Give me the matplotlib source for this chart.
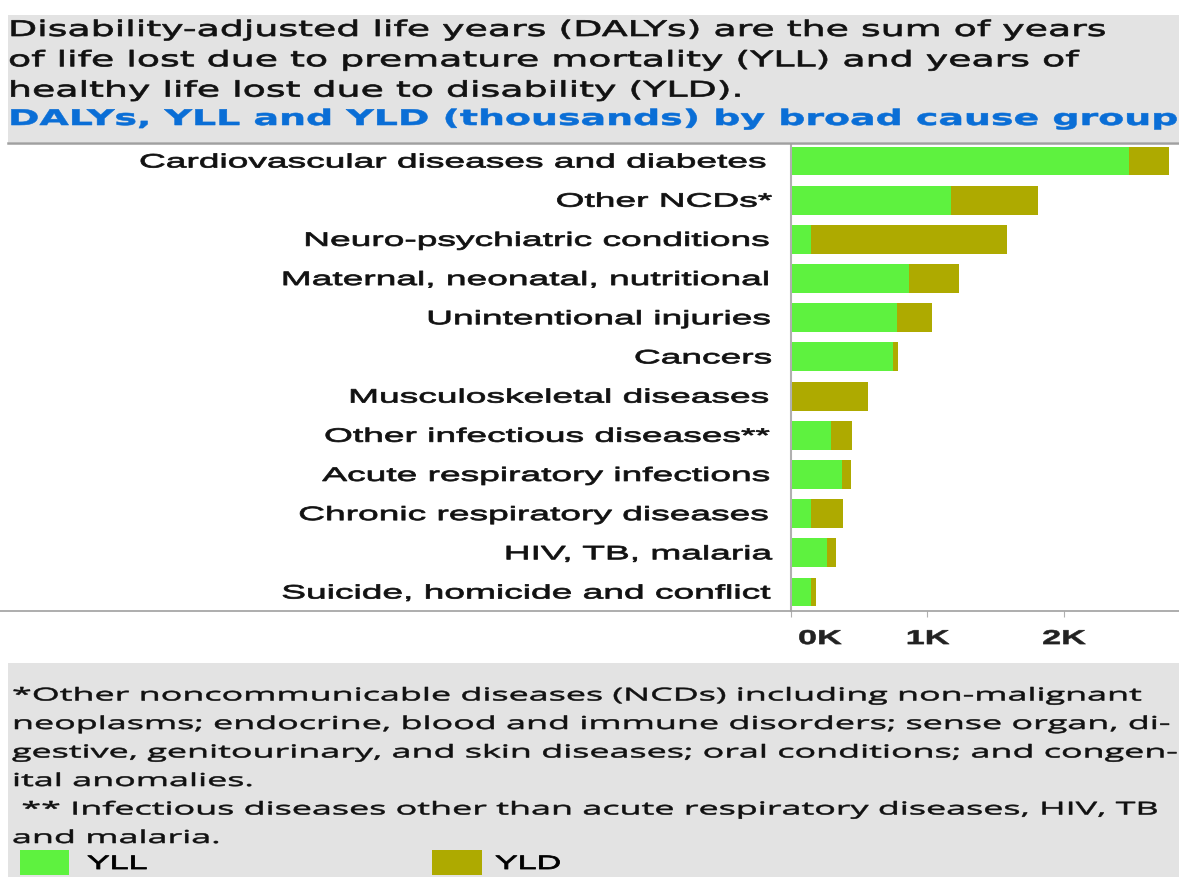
import matplotlib.pyplot as plt
import numpy as np
from matplotlib.patches import Rectangle
from matplotlib.lines import Line2D
from matplotlib.patheffects import AbstractPathEffect
from matplotlib.transforms import Affine2D

# Data (thousands)
causes = ["Cardiovascular diseases and diabetes", "Other NCDs*",
          "Neuro-psychiatric conditions", "Maternal, neonatal, nutritional",
          "Unintentional injuries", "Cancers", "Musculoskeletal diseases",
          "Other infectious diseases**", "Acute respiratory infections",
          "Chronic respiratory diseases", "HIV, TB, malaria",
          "Suicide, homicide and conflict"]
yll = [2.476, 1.171, 0.144, 0.867, 0.774, 0.750, 0.005, 0.290, 0.371, 0.144, 0.261, 0.144]
yld = [0.293, 0.638, 1.436, 0.364, 0.257, 0.037, 0.557, 0.159, 0.066, 0.239, 0.069, 0.039]
xticks = [0, 1, 2]
xtick_labels = ["0K", "1K", "2K"]

header_lines = ["Disability-adjusted life years (DALYs) are the sum of years",
                "of life lost due to premature mortality (YLL) and years of",
                "healthy life lost due to disability (YLD)."]
subtitle = "DALYs, YLL and YLD (thousands) by broad cause group"
footer_lines = ["*Other noncommunicable diseases (NCDs) including non-malignant",
                "neoplasms; endocrine, blood and immune disorders; sense organ, di-",
                "gestive, genitourinary, and skin diseases; oral conditions; and congen-",
                "ital anomalies.",
                " ** Infectious diseases other than acute respiratory diseases, HIV, TB",
                "and malaria."]

green = "#5ef23f"
olive = "#aeaa00"
grey_bg = "#e3e3e3"


class Stretch(AbstractPathEffect):
    """Draw text glyphs stretched horizontally about pixel column x0,
    with an optional thin outline to thicken the strokes."""
    def __init__(self, sx, x0, dx=0, lw=0.0):
        super().__init__()
        self.sx, self.x0, self.dx, self.lw = sx, x0, dx, lw

    def draw_path(self, renderer, gc, tpath, affine, rgbFace=None):
        st = Affine2D().translate(-self.x0, 0).scale(self.sx, 1).translate(self.x0 + self.dx, 0)
        gc0 = renderer.new_gc()
        gc0.copy_properties(gc)
        if self.lw and rgbFace is not None:
            gc0.set_linewidth(self.lw)
            gc0.set_foreground(rgbFace)
        renderer.draw_path(gc0, tpath, affine + st, rgbFace)
        gc0.restore()


W, H = 1179, 877
fig = plt.figure(figsize=(W / 100, H / 100), dpi=100)


def px(x, y):
    # pixel position measured from top-left -> figure fraction
    return x / W, 1 - y / H


# grey header and footer panels
fig.patches.append(Rectangle(px(8, 142), 1, 127 / H, transform=fig.transFigure,
                             facecolor=grey_bg, edgecolor="none", zorder=0))
fig.patches.append(Rectangle(px(8, H), 1, (H - 663) / H, transform=fig.transFigure,
                             facecolor=grey_bg, edgecolor="none", zorder=0))
fig.lines.append(Line2D([8 / W, 1], [1 - 143 / H] * 2, transform=fig.transFigure,
                        color="#a0a0a0", lw=1.8))
fig.lines.append(Line2D([0, 1], [1 - 611 / H] * 2, transform=fig.transFigure,
                        color="#a0a0a0", lw=1.2))

# header
for i, line in enumerate(header_lines):
    fig.text(*px(8, 36 + 30.3 * i), line, fontsize=15.5, family="DejaVu Sans",
             va="baseline", ha="left", color="#111111",
             path_effects=[Stretch(1.76, 8, lw=0.5)])
fig.text(*px(8, 125), subtitle, fontsize=15.5, fontweight="bold", color="#0a6ed6",
         va="baseline", ha="left", path_effects=[Stretch(1.76, 8, lw=0.4)])

# chart
ax = fig.add_axes([791 / W, 1 - 611 / H, (W - 791) / W, (611 - 145) / H])
y = np.arange(len(causes))
ax.barh(y, yll, height=0.74, color=green, label="YLL")
ax.barh(y, yld, left=yll, height=0.74, color=olive, label="YLD")
ax.set_xlim(0, (W - 791) / 136.5)
ax.set_ylim(11 + 19 / 39.18, -16 / 39.18)
ax.set_yticks(y)
ax.set_yticklabels(causes, fontsize=14, family="Liberation Sans", color="#111111")
ax.tick_params(axis="y", length=0, pad=12.5)
for lab in ax.get_yticklabels():
    lab.set_path_effects([Stretch(1.91, 774, lw=0.55)])
ax.set_xticks(xticks)
ax.set_xticklabels(xtick_labels, fontsize=14.5, fontweight="bold",
                   family="Liberation Sans", color="#222222")
ax.tick_params(axis="x", length=4, color="#b0b0b0", pad=9)
for v, lab in zip(xticks, ax.get_xticklabels()):
    x0 = ax.transData.transform((v, 0))[0]
    if v == 0:
        lab.set_horizontalalignment("left")
        lab.set_path_effects([Stretch(1.7, x0, dx=7, lw=0.4)])
    else:
        lab.set_path_effects([Stretch(1.7, x0, lw=0.4)])
for s in ["top", "right", "bottom"]:
    ax.spines[s].set_visible(False)
ax.spines["left"].set_color("#b0b0b0")
ax.spines["left"].set_linewidth(1.5)

# footnotes
for i, line in enumerate(footer_lines):
    fig.text(*px(12, 700.5 + 28.5 * i), line, fontsize=12.8, family="Open Sans",
             va="baseline", ha="left", color="#111111",
             path_effects=[Stretch(2.02, 12, lw=0.4)])

# legend swatches
fig.patches.append(Rectangle(px(20, 875), 49 / W, 25 / H, transform=fig.transFigure,
                             facecolor=green, edgecolor="none"))
fig.text(*px(87, 869), "YLL", fontsize=14, family="Liberation Sans", va="baseline",
         path_effects=[Stretch(1.75, 87, lw=0.6)])
fig.patches.append(Rectangle(px(432, 875), 50 / W, 25 / H, transform=fig.transFigure,
                             facecolor=olive, edgecolor="none"))
fig.text(*px(495, 869), "YLD", fontsize=14, family="Liberation Sans", va="baseline",
         path_effects=[Stretch(1.75, 495, lw=0.6)])

fig.savefig("out.png", dpi=100)
